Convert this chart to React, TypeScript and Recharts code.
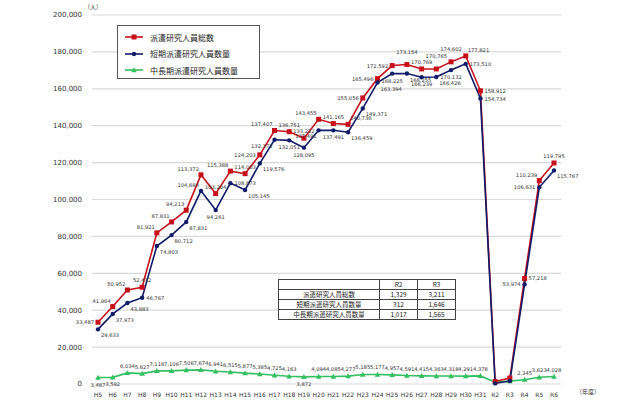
import { LineChart, Line, XAxis, YAxis, CartesianGrid, LabelList } from "recharts";

const years = [
  "H5", "H6", "H7", "H8", "H9", "H10", "H11", "H12", "H13", "H14", "H15", "H16",
  "H17", "H18", "H19", "H20", "H21", "H22", "H23", "H24", "H25", "H26", "H27",
  "H28", "H29", "H30", "H31", "R2", "R3", "R4", "R5", "R6",
];

// 派遣研究人員総数
const totalCounts = [
  33487, 41964, 50952, 52432, 81921, 87831, 94213, 113372, 103204, 115388, 114003,
  124203, 137407, 136751, 133222, 143455, 141165, 140736, 155056, 165496, 172592,
  173154, 170769, 170765, 174602, 177821, 158912, 1329, 3211, 57218, 110239, 119795,
];

// 短期派遣研究人員数量
const shortCounts = [
  29633, 37973, 43883, 46767, 74803, 80712, 87831, 104684, 94261, 108873, 105145,
  119576, 132372, 132051, 128095, 137491, 137491, 136459, 149371, 163394, 168225,
  168255, 166239, 166426, 170132, 173510, 154734, 312, 1646, 53974, 106631, 115767,
];

// 中長期派遣研究人員数量
const longCounts = [
  3487, 3592, 6034, 5627, 7118, 7106, 7506, 7674, 6941, 6515, 5877, 5385, 4725,
  4163, 3872, 4094, 4085, 4277, 5185, 5177, 4957, 4591, 4415, 4363, 4318, 4291,
  4378, 1017, 1565, 2345, 3623, 4028,
];

const yTicks = [0, 20000, 40000, 60000, 80000, 100000, 120000, 140000, 160000, 180000, 200000];

const seriesNames = ["派遣研究人員総数", "短期派遣研究人員数量", "中長期派遣研究人員数量"];
const tableYears = ["R2", "R3"];

// where each data label sits relative to its point ("-" = shown in the table instead)
const totalLabelPos = [
  "l", "tl", "tl", "t", "tl", "tl", "tl", "tl", "t", "tl", "t", "l", "tl", "t", "t", "tl",
  "t", "tr", "l", "l", "l", "tt", "t", "tt", "tt", "tr", "r", "-", "-", "r", "tl", "t",
];
const shortLabelPos = [
  "br", "br", "br", "r", "br", "br", "br", "tl", "b", "r", "br", "br", "bl", "b", "b", "bl",
  "b", "br", "br", "br", "b", "br", "b", "br", "b", "r", "r", "-", "-", "l", "l", "br",
];
const longLabelPos = [
  "b", "b", "t", "t", "t", "t", "t", "t", "t", "t", "t", "t", "t", "t", "b", "t",
  "t", "t", "t", "t", "t", "t", "t", "t", "t", "t", "t", "-", "-", "t", "t", "t",
];

const RED = "#c8101a";
const BLUE = "#101c6a";
const GREEN = "#33c060";
const FONT = "'Noto Sans CJK JP', 'DejaVu Sans', sans-serif";

const data = years.map((year, i) => ({
  year,
  total: totalCounts[i],
  short: shortCounts[i],
  long: longCounts[i],
}));

const fmt = (v: number) => v.toLocaleString("en-US");

const placements: Record<string, [number, number, string]> = {
  t: [0, -5, "middle"],
  tt: [0, -11, "middle"],
  tl: [-2, -4, "end"],
  tr: [2, -4, "start"],
  l: [-4, 2, "end"],
  r: [4, 2, "start"],
  b: [0, 9, "middle"],
  bl: [-2, 8, "end"],
  br: [3, 8, "start"],
};

const SquareDot = (props: any) => {
  const { cx, cy } = props;
  if (cx == null || cy == null) return null;
  return <rect x={cx - 2.5} y={cy - 2.5} width={5} height={5} fill={RED} />;
};

const CircleDot = (props: any) => {
  const { cx, cy } = props;
  if (cx == null || cy == null) return null;
  return <circle cx={cx} cy={cy} r={2.2} fill={BLUE} />;
};

const TriangleDot = (props: any) => {
  const { cx, cy } = props;
  if (cx == null || cy == null) return null;
  return (
    <path
      d={`M${cx},${cy - 2.8} L${cx + 2.8},${cy + 2.2} L${cx - 2.8},${cy + 2.2} Z`}
      fill={GREEN}
    />
  );
};

const makeLabel = (positions: string[]) => (props: any) => {
  const { x, y, value, index } = props;
  if (x == null || y == null) return null;
  const p = placements[positions[index]];
  if (!p) return null;
  return (
    <text
      x={x + p[0]}
      y={y + p[1]}
      fontSize={5.2}
      fill="#333"
      textAnchor={p[2]}
      fontFamily="'DejaVu Sans', sans-serif"
    >
      {fmt(value)}
    </text>
  );
};

const legendMarkers = [
  (x: number, y: number) => <rect x={x - 2.5} y={y - 2.5} width={5} height={5} fill={RED} />,
  (x: number, y: number) => <circle cx={x} cy={y} r={2.2} fill={BLUE} />,
  (x: number, y: number) => (
    <path d={`M${x},${y - 2.8} L${x + 2.8},${y + 2.2} L${x - 2.8},${y + 2.2} Z`} fill={GREEN} />
  ),
];
const legendColors = [RED, BLUE, GREEN];

export default function App() {
  const tableRows = [totalCounts, shortCounts, longCounts];
  const cell = {
    border: "1px solid #444",
    textAlign: "center" as const,
    height: 9,
    padding: 0,
    lineHeight: "9px",
  };
  return (
    <div
      style={{
        position: "absolute",
        left: 0,
        top: 0,
        width: 624,
        height: 400,
        background: "#fff",
        fontFamily: FONT,
      }}
    >
      <LineChart
        width={624}
        height={400}
        data={data}
        margin={{ top: 15, right: 63, bottom: 4, left: 0 }}
      >
        <CartesianGrid vertical={false} stroke="#d9d9d9" strokeWidth={1.2} />
        <XAxis
          dataKey="year"
          axisLine={false}
          tickLine={false}
          height={12}
          interval={0}
          padding={{ left: 6, right: 7 }}
          tick={{ fontSize: 6, fill: "#333", fontFamily: "'DejaVu Sans', sans-serif" }}
          tickMargin={3}
        />
        <YAxis
          width={92}
          domain={[0, 200000]}
          ticks={yTicks}
          axisLine={false}
          tickLine={false}
          tickSize={0}
          tickMargin={10}
          tickFormatter={fmt}
          tick={{ fontSize: 7, fill: "#333", fontFamily: "'DejaVu Sans', sans-serif" }}
        />
        <Line
          dataKey="long"
          name={seriesNames[2]}
          stroke={GREEN}
          strokeWidth={1.6}
          dot={<TriangleDot />}
          activeDot={false}
          isAnimationActive={false}
        >
          <LabelList dataKey="long" content={makeLabel(longLabelPos)} />
        </Line>
        <Line
          dataKey="total"
          name={seriesNames[0]}
          stroke={RED}
          strokeWidth={1.6}
          dot={<SquareDot />}
          activeDot={false}
          isAnimationActive={false}
        >
          <LabelList dataKey="total" content={makeLabel(totalLabelPos)} />
        </Line>
        <Line
          dataKey="short"
          name={seriesNames[1]}
          stroke={BLUE}
          strokeWidth={1.6}
          dot={<CircleDot />}
          activeDot={false}
          isAnimationActive={false}
        >
          <LabelList dataKey="short" content={makeLabel(shortLabelPos)} />
        </Line>
      </LineChart>

      <div style={{ position: "absolute", left: 84, top: 2, fontSize: 6, color: "#333" }}>（人）</div>
      <div style={{ position: "absolute", left: 576, top: 387, fontSize: 6, color: "#333" }}>（年度）</div>

      <div
        style={{
          position: "absolute",
          left: 117,
          top: 25,
          width: 143,
          height: 54,
          border: "1px solid #555",
          background: "#fff",
          boxSizing: "border-box",
          padding: "3px 0 0 6px",
        }}
      >
        {seriesNames.map((name, i) => (
          <div key={name} style={{ display: "flex", alignItems: "center", height: 16.5 }}>
            <svg width={20} height={10}>
              <line x1={1} y1={5} x2={19} y2={5} stroke={legendColors[i]} strokeWidth={1.6} />
              {legendMarkers[i](10, 5)}
            </svg>
            <span style={{ fontSize: 8, color: "#222", marginLeft: 6 }}>{name}</span>
          </div>
        ))}
      </div>

      <table
        style={{
          position: "absolute",
          left: 278,
          top: 279,
          borderCollapse: "collapse",
          fontSize: 6.5,
          color: "#222",
          background: "#fff",
        }}
      >
        <tbody>
          <tr>
            <td style={{ ...cell, width: 100 }}></td>
            {tableYears.map((y) => (
              <td key={y} style={{ ...cell, width: 37 }}>
                {y}
              </td>
            ))}
          </tr>
          {seriesNames.map((name, r) => (
            <tr key={name}>
              <td style={cell}>{name}</td>
              {tableYears.map((y) => (
                <td key={y} style={cell}>
                  {fmt(tableRows[r][years.indexOf(y)])}
                </td>
              ))}
            </tr>
          ))}
        </tbody>
      </table>
    </div>
  );
}
